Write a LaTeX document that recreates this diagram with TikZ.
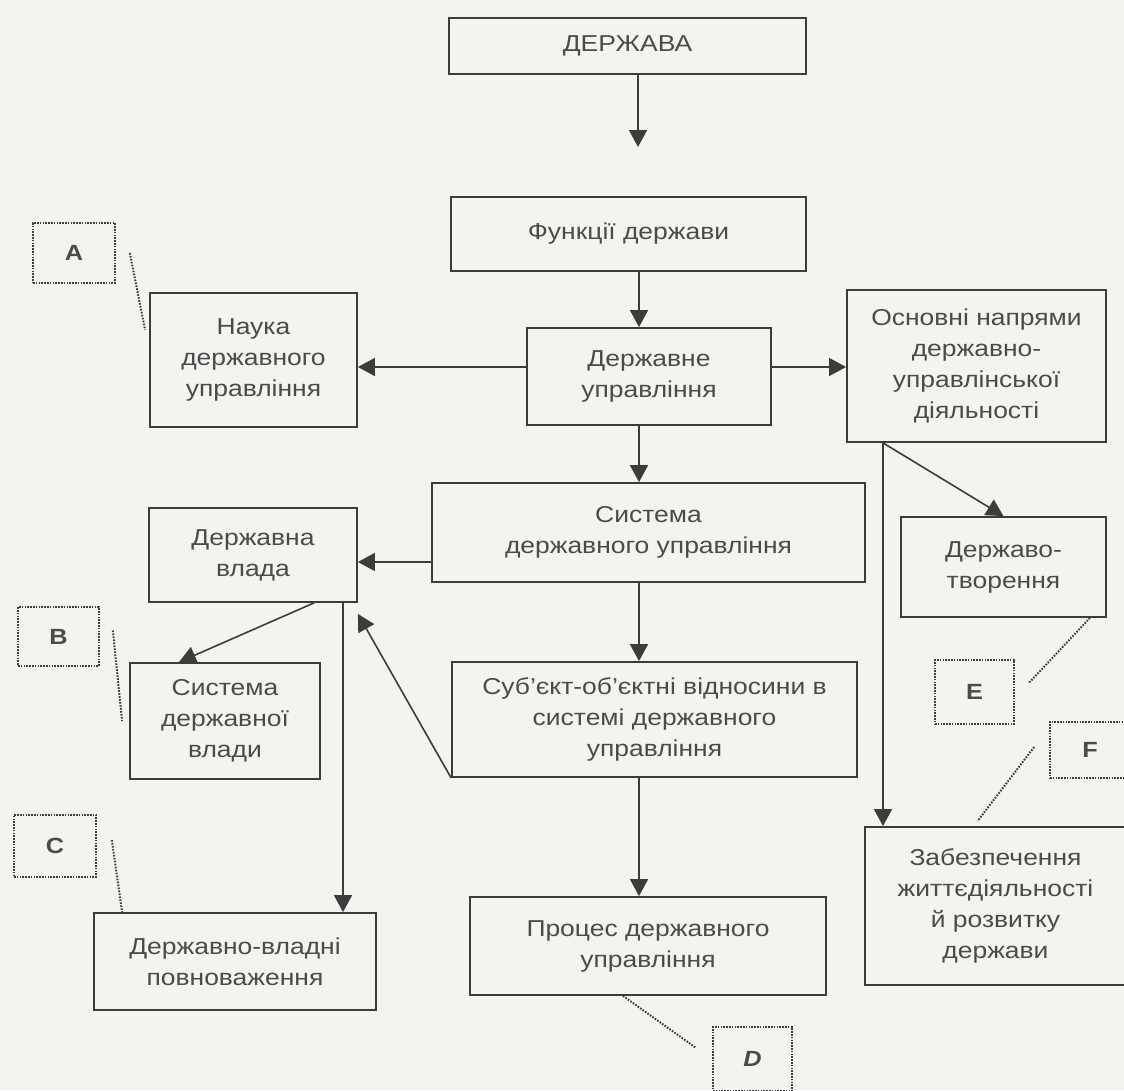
\documentclass[tikz,border=0pt]{standalone}
\usepackage{fontspec}
\setmainfont{Liberation Sans}[FakeStretch=1.15]
\usetikzlibrary{arrows.meta,calc}
\definecolor{paper}{RGB}{243,243,240}
\definecolor{ink}{RGB}{60,60,60}
\definecolor{txt}{RGB}{75,75,75}
\tikzset{
  box/.style={draw=ink, line width=1.8pt, fill=none, align=center, inner sep=0pt,
    text=txt, font=\fontsize{23}{31}\selectfont},
  tag/.style={draw=ink, line width=1.7pt, dash pattern=on 1.6pt off 1.2pt, inner sep=0pt,
    text=txt, font=\fontsize{22}{26}\selectfont\bfseries},
  arr/.style={draw=ink, line width=1.6pt, -{Triangle[width=18pt,length=17pt]}},
  note/.style={draw=ink, line width=2pt, dash pattern=on 1.6pt off 1.4pt},
}
\begin{document}
\begin{tikzpicture}[x=1pt,y=-1pt]
  \fill[paper] (0,0) rectangle (1124,1090);
  \useasboundingbox (0,0) rectangle (1124,1090);
  \clip (0,0) rectangle (1124,1090);

  % main column
  \node[box, minimum width=357pt, minimum height=56pt] (derzh) at (627.5,46) {ДЕРЖАВА};
  \node[box, minimum width=355pt, minimum height=74pt] (funk) at (628.5,234) {Функції держави};
  \node[box, minimum width=244pt, minimum height=97pt] (du) at (649,376.5) {Державне\\управління};
  \node[box, minimum width=433pt, minimum height=99pt] (sdu) at (648.5,532.5) {Система\\державного управління};
  \node[box, minimum width=405pt, minimum height=115pt] (subj) at (654.5,719.5) {Суб’єкт-об’єктні відносини в\\системі державного\\управління};
  \node[box, minimum width=356pt, minimum height=98pt] (proc) at (648,946) {Процес державного\\управління};

  % left column
  \node[box, minimum width=207pt, minimum height=134pt] (nauka) at (253.5,360) {Наука\\державного\\управління};
  \node[box, minimum width=208pt, minimum height=94pt] (vlada) at (253,555) {Державна\\влада};
  \node[box, minimum width=190pt, minimum height=116pt] (sdv) at (225,721) {Система\\державної\\влади};
  \node[box, minimum width=282pt, minimum height=97pt] (povn) at (235,961.5) {Державно-владні\\повноваження};

  % right column
  \node[box, minimum width=259pt, minimum height=152pt] (osn) at (976.5,366) {Основні напрями\\державно-\\управлінської\\діяльності};
  \node[box, minimum width=205pt, minimum height=100pt] (tvor) at (1003.5,567) {Державо-\\творення};
  \node[box, minimum width=261pt, minimum height=158pt] (zab) at (995.5,906) {Забезпечення\\життєдіяльності\\й розвитку\\держави};

  % letter tags
  \node[tag, minimum width=82pt, minimum height=60pt] (tA) at (74,253) {A};
  \node[tag, minimum width=81pt, minimum height=59pt] (tB) at (58.5,636.5) {B};
  \node[tag, minimum width=82pt, minimum height=62pt] (tC) at (55,846) {C};
  \node[tag, minimum width=79pt, minimum height=64pt] (tD) at (752.5,1059) {\itshape D};
  \node[tag, minimum width=79pt, minimum height=64pt] (tE) at (974.5,692) {E};
  \node[tag, minimum width=80pt, minimum height=56pt] (tF) at (1090,750) {F};

  % guide lines for connectors
  \coordinate (spine) at (639,0);
  \coordinate (gap) at (638,147);
  \coordinate (rowA) at (0,367);
  \coordinate (rowB) at (0,562);
  \coordinate (railL) at (343,0);
  \coordinate (railR) at (883,0);

  % connectors
  \draw[arr] (derzh.south -| gap) -- (gap);
  \draw[arr] (funk.south -| spine) -- (du.north -| spine);
  \draw[arr] (du.west |- rowA) -- (nauka.east |- rowA);
  \draw[arr] (du.east |- rowA) -- (osn.west |- rowA);
  \draw[arr] (du.south -| spine) -- (sdu.north -| spine);
  \draw[arr] (sdu.west |- rowB) -- (vlada.east |- rowB);
  \draw[arr] (sdu.south -| spine) -- (subj.north -| spine);
  \draw[arr] (subj.south -| spine) -- (proc.north -| spine);
  \draw[arr] ([xshift=61pt]vlada.south) -- ([xshift=-46pt]sdv.north);
  \draw[arr] (vlada.south -| railL) -- (povn.north -| railL);
  \draw[arr] (subj.south west) -- ([yshift=-11pt]vlada.south east);
  \draw[arr] (osn.south -| railR) -- (tvor.north);
  \draw[arr] (osn.south -| railR) -- (zab.north -| railR);

  % dotted leaders to the tags
  \draw[note] ([xshift=14pt]tA.east) -- ([xshift=-4pt,yshift=30pt]nauka.west);
  \draw[note] ([xshift=13pt,yshift=6pt]tB.east) -- ([xshift=-7pt]sdv.west);
  \draw[note] ([xshift=15pt,yshift=6pt]tC.east) -- ([xshift=29pt]povn.north west);
  \draw[note] ([xshift=-25pt]proc.south) -- ([xshift=-16pt,yshift=11pt]tD.west);
  \draw[note] ([xshift=-17pt]tvor.south east) -- ([xshift=14pt,yshift=9pt]tE.east);
  \draw[note] ([xshift=-15pt,yshift=3pt]tF.west) -- ([xshift=-18pt,yshift=5pt]zab.north);
\end{tikzpicture}
\end{document}
